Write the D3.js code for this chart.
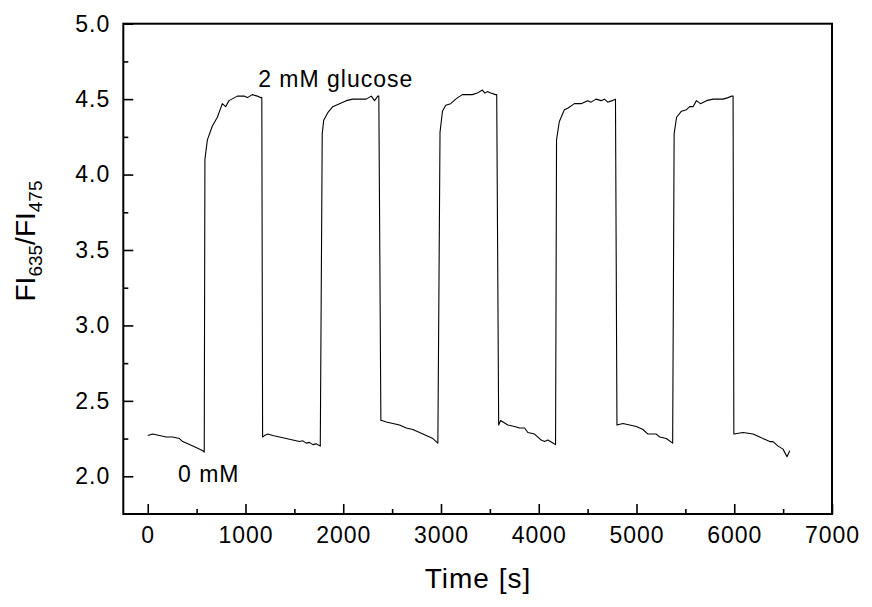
<!DOCTYPE html>
<html><head><meta charset="utf-8">
<script src="https://cdn.jsdelivr.net/npm/d3@7"></script>
<style>
body{margin:0;background:#fff;}
svg text{font-family:Arial,"Liberation Sans",Helvetica,sans-serif;fill:#000;}
</style>
</head><body>
<svg id="chart" width="872" height="607"></svg>
<script>
// ---- data ----
const timeS = [
  0, 51, 120, 188, 256, 324, 358, 427, 495, 563, 578,
  585, 610, 660, 712, 763, 797, 831, 917, 985, 1019, 1070, 1120, 1156, 1167,
  1175, 1194, 1228, 1279, 1348, 1417, 1484, 1553, 1587, 1621, 1655, 1689, 1723, 1765,
  1785, 1800, 1842, 1893, 1962, 2031, 2098, 2167, 2235, 2287, 2320, 2354, 2364,
  2385, 2395, 2440, 2508, 2576, 2645, 2712, 2781, 2849, 2917, 2968,
  2990, 3015, 3048, 3099, 3150, 3218, 3286, 3320, 3372, 3423, 3450, 3474, 3508, 3559, 3570,
  3590, 3610, 3684, 3752, 3803, 3855, 3889, 3957, 4025, 4059, 4093, 4145, 4172,
  4182, 4210, 4262, 4296, 4365, 4433, 4500, 4535, 4586, 4637, 4672, 4706, 4750, 4785,
  4800, 4861, 4930, 4999, 5066, 5117, 5168, 5203, 5237, 5305, 5370,
  5385, 5410, 5460, 5511, 5545, 5579, 5613, 5654, 5716, 5784, 5852, 5886, 5937, 5975, 5988,
  5996, 6090, 6192, 6261, 6329, 6363, 6397, 6448, 6499, 6540, 6568
];
const ratio = [
  2.27, 2.28, 2.27, 2.26, 2.26, 2.25, 2.23, 2.21, 2.19, 2.17, 2.16,
  4.10, 4.23, 4.32, 4.38, 4.47, 4.45, 4.49, 4.52, 4.52, 4.51, 4.53, 4.52, 4.51, 4.51,
  2.26, 2.27, 2.28, 2.27, 2.26, 2.25, 2.24, 2.23, 2.235, 2.22, 2.225, 2.21, 2.215, 2.20,
  4.27, 4.36, 4.41, 4.45, 4.47, 4.49, 4.50, 4.50, 4.50, 4.52, 4.49, 4.52, 4.52,
  2.37, 2.37, 2.36, 2.35, 2.34, 2.32, 2.31, 2.29, 2.27, 2.25, 2.22,
  4.28, 4.42, 4.46, 4.47, 4.50, 4.53, 4.53, 4.53, 4.54, 4.56, 4.54, 4.55, 4.54, 4.53, 4.53,
  2.34, 2.37, 2.34, 2.33, 2.32, 2.32, 2.29, 2.28, 2.24, 2.23, 2.24, 2.22, 2.21,
  4.23, 4.35, 4.43, 4.44, 4.47, 4.47, 4.49, 4.48, 4.50, 4.49, 4.50, 4.48, 4.49, 4.50,
  2.34, 2.35, 2.34, 2.33, 2.31, 2.28, 2.28, 2.28, 2.26, 2.25, 2.22,
  4.27, 4.38, 4.42, 4.43, 4.45, 4.45, 4.49, 4.47, 4.49, 4.50, 4.50, 4.50, 4.51, 4.52, 4.52,
  2.28, 2.29, 2.28, 2.26, 2.24, 2.23, 2.23, 2.20, 2.18, 2.13, 2.17
];
const xTicks = [0, 1000, 2000, 3000, 4000, 5000, 6000, 7000];
const xMinorTicks = [500, 1500, 2500, 3500, 4500, 5500, 6500];
const yTicks = [2.0, 2.5, 3.0, 3.5, 4.0, 4.5, 5.0];
const yMinorTicks = [2.25, 2.75, 3.25, 3.75, 4.25, 4.75];
const xDomain = [-250, 7000];
const yDomain = [1.75, 5.0];
const labelHigh = "2 mM glucose";
const labelLow = "0 mM";
const xTitle = "Time [s]";

// ---- layout ----
const svg = d3.select("#chart");
const L = 123.3, R = 832, T = 23.7, B = 514;
const x = d3.scaleLinear().domain(xDomain).range([L, R]);
const y = d3.scaleLinear().domain(yDomain).range([B, T]);

const tickFont = "23px";

function styleTicks(g) {
  g.select(".domain").remove();
  g.selectAll(".tick line").attr("stroke", "#000").attr("stroke-width", 1.6);
  g.selectAll("text").style("font-size", tickFont).style("letter-spacing", "1px")
    .attr("font-family", null);
}

// bottom axis
svg.append("g").attr("transform", `translate(0,${B})`)
  .call(d3.axisBottom(x).tickValues(xTicks).tickFormat(d3.format("d"))
    .tickSizeInner(-10).tickSizeOuter(0).tickPadding(13))
  .call(styleTicks);
svg.append("g").attr("transform", `translate(0,${B})`)
  .call(d3.axisBottom(x).tickValues(xMinorTicks).tickFormat("")
    .tickSizeInner(-5).tickSizeOuter(0))
  .call(styleTicks);

// left axis
svg.append("g").attr("transform", `translate(${L},0)`)
  .call(d3.axisLeft(y).tickValues(yTicks).tickFormat(d3.format(".1f"))
    .tickSizeInner(-10).tickSizeOuter(0).tickPadding(13))
  .call(styleTicks);
svg.append("g").attr("transform", `translate(${L},0)`)
  .call(d3.axisLeft(y).tickValues(yMinorTicks).tickFormat("")
    .tickSizeInner(-5).tickSizeOuter(0))
  .call(styleTicks);

// frame
svg.append("rect").attr("x", L).attr("y", T).attr("width", R - L).attr("height", B - T)
  .attr("fill", "none").attr("stroke", "#000").attr("stroke-width", 2);

// data line
const pts = timeS.map((t, i) => [t, ratio[i]]);
svg.append("path").datum(pts)
  .attr("fill", "none").attr("stroke", "#000").attr("stroke-width", 1.1)
  .attr("stroke-linejoin", "round")
  .attr("d", d3.line().x(d => x(d[0])).y(d => y(d[1])));

// annotations
svg.append("text").attr("x", x(1130)).attr("y", y(4.58))
  .style("font-size", "23px").style("letter-spacing", "1px").text(labelHigh);
svg.append("text").attr("x", x(310)).attr("y", y(1.963))
  .style("font-size", "23px").style("letter-spacing", "1px").text(labelLow);

// x title
svg.append("text").attr("x", 478).attr("y", 588)
  .attr("text-anchor", "middle").style("font-size", "28px").style("letter-spacing", "1px")
  .text(xTitle);

// y title with subscripts
const yt = svg.append("text").attr("transform", "translate(35,241) rotate(-90)")
  .attr("text-anchor", "middle").style("font-size", "28px");
yt.append("tspan").text("FI");
yt.append("tspan").attr("dy", 7).style("font-size", "19px").text("635");
yt.append("tspan").attr("dy", -7).text("/FI");
yt.append("tspan").attr("dy", 7).style("font-size", "19px").text("475");
</script>
</body></html>
